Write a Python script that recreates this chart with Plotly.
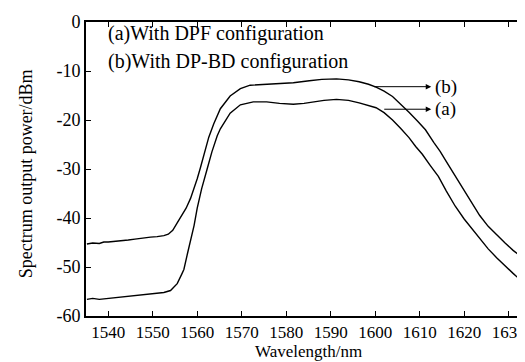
import plotly.graph_objects as go

# Curve (b): With DP-BD configuration
wl_b = [1535.2, 1536.5, 1538, 1539, 1540, 1541.5, 1543, 1544.5, 1546, 1547.5, 1549.5, 1551, 1552.5, 1553.5,
        1554.5, 1555.5, 1556.5, 1557.5, 1558.5, 1559.3, 1560, 1560.7, 1561.5, 1562.6, 1563.7, 1565.2,
        1567.4, 1569.7, 1571.9, 1575.6, 1578.5, 1581.6, 1585.2, 1588, 1591.3, 1594, 1596.4, 1598.5,
        1600.2, 1602, 1603.9, 1606, 1607.6, 1609.5, 1611.3, 1613.2, 1614.6, 1616, 1618, 1620, 1621.8,
        1623.5, 1625.4, 1627.3, 1629.2, 1631, 1633, 1634.8]
pw_b = [-45.3, -45.1, -45.2, -44.9, -44.9, -44.8, -44.6, -44.5, -44.3, -44.1, -43.9, -43.8, -43.6, -43.3,
        -42.5, -41.0, -39.5, -38.0, -36.0, -34.0, -32.0, -29.8, -27.0, -23.5, -20.8, -17.7,
        -15.1, -13.6, -12.9, -12.7, -12.6, -12.4, -12.0, -11.7, -11.6, -11.8, -12.2, -12.7,
        -13.3, -14.1, -15.2, -16.9, -18.4, -20.2, -22.0, -24.6, -26.4, -28.5, -31.5, -34.5, -37.0,
        -39.5, -41.7, -43.5, -45.1, -46.6, -48.0, -49.2]

# Curve (a): With DPF configuration
wl_a = [1535.2, 1536.5, 1538, 1539, 1540, 1541.5, 1543, 1544.5, 1546, 1547.5, 1549.5, 1551, 1552.5, 1554,
        1555.5, 1556.5, 1557, 1557.8, 1558.5, 1559.3, 1560, 1561, 1562.2, 1563.3, 1564.5, 1565.2,
        1567.4, 1569.7, 1572.6, 1575.6, 1578.5, 1581.6, 1584, 1586, 1588.5, 1591.3, 1594, 1596.4,
        1598.5, 1600.2, 1602, 1603.9, 1605.7, 1607.6, 1609.1, 1610.6, 1612.4, 1614.2, 1616, 1618,
        1620, 1621.8, 1623.6, 1625.4, 1627.3, 1629.2, 1631, 1633, 1634.8]
pw_a = [-56.6, -56.4, -56.6, -56.5, -56.4, -56.2, -56.1, -55.9, -55.7, -55.6, -55.4, -55.3, -55.2, -54.8,
        -53.4, -51.5, -50.5, -47.3, -44.5, -41.5, -38.0, -34.0, -30.1, -26.5, -23.2, -21.8,
        -18.6, -16.9, -16.3, -16.3, -16.6, -16.8, -16.6, -16.3, -16.0, -15.8, -16.0, -16.5,
        -17.0, -17.5, -18.5, -20.0, -21.7, -23.6, -25.4, -27.0, -29.3, -31.5, -34.5, -37.6,
        -40.2, -42.3, -44.4, -46.3, -48.1, -49.8, -51.3, -52.9, -54.2]

x_ticks = [1540, 1550, 1560, 1570, 1580, 1590, 1600, 1610, 1620, 1630]
x_labels = ["1540", "1550", "1560", "1570", "1580", "1590", "1600", "1610", "1620", "1630"]
y_ticks = [0, -10, -20, -30, -40, -50, -60]
y_labels = ["0", "-10", "-20", "-30", "-40", "-50", "-60"]

FONT = "Liberation Serif, Times New Roman, serif"

fig = go.Figure()
fig.add_trace(go.Scatter(x=wl_b, y=pw_b, mode="lines", line=dict(color="black", width=1.4),
                         name="(b)", showlegend=False))
fig.add_trace(go.Scatter(x=wl_a, y=pw_a, mode="lines", line=dict(color="black", width=1.4),
                         name="(a)", showlegend=False))

# arrows and labels
fig.add_annotation(x=1612.6, y=-13.2, ax=1599.4, ay=-13.2, xref="x", yref="y", axref="x", ayref="y",
                   showarrow=True, arrowhead=2, arrowsize=1.1, arrowwidth=1, arrowcolor="black", text="")
fig.add_annotation(x=1612.6, y=-17.8, ax=1601.7, ay=-17.8, xref="x", yref="y", axref="x", ayref="y",
                   showarrow=True, arrowhead=2, arrowsize=1.1, arrowwidth=1, arrowcolor="black", text="")
fig.add_annotation(x=1612.9, y=-13.2, text="(b)", showarrow=False, xanchor="left", yanchor="middle",
                   font=dict(family=FONT, size=19, color="black"))
fig.add_annotation(x=1612.9, y=-17.8, text="(a)", showarrow=False, xanchor="left", yanchor="middle",
                   font=dict(family=FONT, size=19, color="black"))

# legend-like text
fig.add_annotation(x=1539.6, y=-2.4, text="(a)With DPF configuration", showarrow=False,
                   xanchor="left", yanchor="middle", font=dict(family=FONT, size=20, color="black"))
fig.add_annotation(x=1539.6, y=-8.0, text="(b)With DP-BD configuration", showarrow=False,
                   xanchor="left", yanchor="middle", font=dict(family=FONT, size=20, color="black"))

# axis titles
fig.add_annotation(x=0.5, y=-0.122, xref="paper", yref="paper", text="Wavelength/nm", showarrow=False,
                   xanchor="center", yanchor="middle", borderpad=0,
                   font=dict(family=FONT, size=17, color="black"))
fig.add_annotation(x=-0.135, y=0.482, xref="paper", yref="paper", text="Spectrum output power/dBm",
                   showarrow=False, textangle=-90, xanchor="center", yanchor="middle",
                   font=dict(family=FONT, size=18, color="black"))

fig.update_xaxes(range=[1535, 1634.8], tickvals=x_ticks, ticktext=x_labels, ticks="inside", ticklen=5,
                 tickwidth=1.2, tickcolor="black", showline=True, linecolor="black", linewidth=2,
                 mirror="ticks", showgrid=False, zeroline=False,
                 tickfont=dict(family=FONT, size=17, color="black"))
fig.update_yaxes(range=[-60, 0], tickvals=y_ticks, ticktext=y_labels, ticks="inside", ticklen=5,
                 tickwidth=1.2, tickcolor="black", showline=True, linecolor="black", linewidth=2,
                 mirror="ticks", showgrid=False, zeroline=False,
                 tickfont=dict(family=FONT, size=18, color="black"))

fig.update_layout(width=525, height=362, margin=dict(l=78, r=1, t=14, b=54),
                  paper_bgcolor="white", plot_bgcolor="white", showlegend=False)

fig.write_html("out.html")
